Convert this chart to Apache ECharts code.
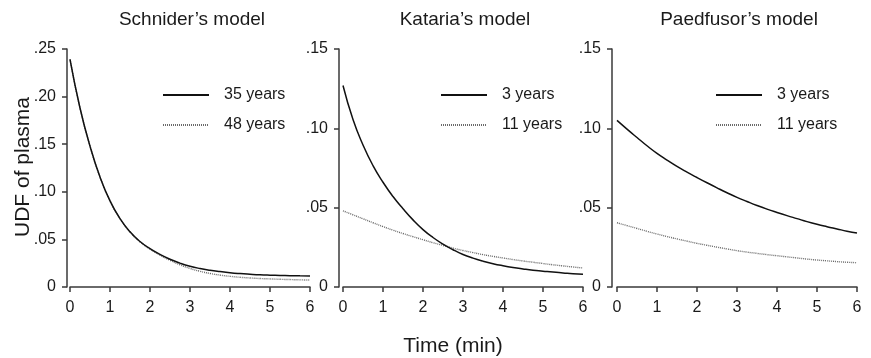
<!DOCTYPE html>
<html>
<head>
<meta charset="utf-8">
<script src="https://cdn.jsdelivr.net/npm/echarts@6/dist/echarts.min.js"></script>
<style>html,body{margin:0;padding:0;background:#fff}#c{width:871px;height:358px}</style>
</head>
<body>
<div id="c"></div>
<script>
// ---- data ----
var times = [0,0.25,0.5,0.75,1,1.25,1.5,1.75,2,2.25,2.5,2.75,3,3.25,3.5,3.75,4,4.25,4.5,4.75,5,5.25,5.5,5.75,6];
var panelTitles = ['Schnider\u2019s model','Kataria\u2019s model','Paedfusor\u2019s model'];
var seriesNames = [['35 years','48 years'],['3 years','11 years'],['3 years','11 years']];
var schnider35 = [0.239,0.188,0.148,0.1155,0.0905,0.0718,0.0580,0.0478,0.0403,0.0343,0.0292,0.0251,0.0218,0.0194,0.0176,0.0162,0.0150,0.0141,0.0134,0.0128,0.0124,0.0121,0.0119,0.0117,0.0116];
var schnider48 = [0.239,0.188,0.148,0.1155,0.0905,0.0718,0.0578,0.0474,0.0398,0.0335,0.0280,0.0233,0.0195,0.0165,0.0142,0.0125,0.0112,0.0102,0.0095,0.0089,0.0085,0.0081,0.0078,0.0075,0.0073];
var kataria3  = [0.127,0.1055,0.0895,0.0765,0.0660,0.0570,0.0493,0.0423,0.0362,0.0312,0.0270,0.0235,0.0205,0.0182,0.0163,0.0147,0.0134,0.0123,0.0114,0.0106,0.0100,0.0094,0.0089,0.0084,0.0080];
var kataria11 = [0.048,0.0455,0.0430,0.0405,0.0381,0.0358,0.0337,0.0317,0.0298,0.0279,0.0262,0.0245,0.0230,0.0217,0.0204,0.0193,0.0183,0.0173,0.0164,0.0156,0.0148,0.0140,0.0133,0.0126,0.0120];
var paed3  = [0.105,0.0995,0.0942,0.0890,0.0842,0.0800,0.0760,0.0724,0.0690,0.0657,0.0625,0.0594,0.0565,0.0539,0.0514,0.0491,0.0470,0.0450,0.0431,0.0412,0.0395,0.0380,0.0366,0.0352,0.0340];
var paed11 = [0.0405,0.0387,0.0369,0.0351,0.0334,0.0318,0.0303,0.0289,0.0275,0.0263,0.0251,0.0240,0.0229,0.0220,0.0212,0.0204,0.0197,0.0190,0.0183,0.0176,0.0170,0.0165,0.0160,0.0156,0.0153];
var yMax = [0.25, 0.15, 0.15];
var xTicks = ['0','1','2','3','4','5','6'];
var yLabel = 'UDF of plasma';
var xLabel = 'Time (min)';

var panelData = [[schnider35, schnider48],[kataria3, kataria11],[paed3, paed11]];

// ---- layout ----
var FONT = '"Liberation Sans", Arial, sans-serif';
var gridLefts = [70, 343, 617];
var yOffsets = [3, 4, 5];
var legendLefts = [162, 440, 715];
var axisColor = '#3a3a3a';
var solidColor = '#111111';
var dotColor = '#6a6a6a';

function pairs(arr){ return arr.map(function(v,i){ return [times[i], v]; }); }
function yFmt(v){ if (Math.abs(v) < 1e-9) return '0'; return v.toFixed(2).replace(/^0/, ''); }

var grids = [], xAxes = [], yAxes = [], series = [], legends = [], graphics = [];
for (var p = 0; p < 3; p++) {
  grids.push({left: gridLefts[p], top: 49, width: 240, height: 238});
  xAxes.push({
    type: 'value', gridIndex: p, min: 0, max: 6, interval: 1,
    axisLine: {show: true, lineStyle: {color: axisColor, width: 1.5}},
    axisTick: {show: true, length: 5, lineStyle: {color: axisColor, width: 1.5}},
    axisLabel: {color: '#1a1a1a', fontSize: 16, fontFamily: FONT, margin: 13,
      formatter: function(v){ return xTicks[Math.round(v)]; }},
    splitLine: {show: false}
  });
  yAxes.push({
    type: 'value', gridIndex: p, min: 0, max: yMax[p], interval: 0.05, offset: yOffsets[p],
    axisLine: {show: true, onZero: false, lineStyle: {color: axisColor, width: 1.5}},
    axisTick: {show: true, length: 5, lineStyle: {color: axisColor, width: 1.5}},
    axisLabel: {color: '#1a1a1a', fontSize: 16, fontFamily: FONT, margin: 11, formatter: yFmt},
    splitLine: {show: false}
  });
  series.push({
    type: 'line', name: seriesNames[p][1], xAxisIndex: p, yAxisIndex: p,
    data: pairs(panelData[p][1]), smooth: true, symbol: 'none', z: 1,
    color: dotColor, itemStyle: {color: dotColor},
    lineStyle: {color: dotColor, width: 1.4, type: [1, 1]}
  });
  series.push({
    type: 'line', name: seriesNames[p][0], xAxisIndex: p, yAxisIndex: p,
    data: pairs(panelData[p][0]), smooth: true, symbol: 'none', z: 2,
    color: solidColor, itemStyle: {color: solidColor},
    lineStyle: {color: solidColor, width: 1.5, type: 'solid'}
  });
  legends.push({
    orient: 'vertical', left: legendLefts[p], top: 87, padding: 0,
    itemWidth: 46, itemHeight: 16, itemGap: 14,
    data: [seriesNames[p][0], seriesNames[p][1]],
    itemStyle: {opacity: 0, borderWidth: 0},
    textStyle: {fontSize: 16, fontFamily: FONT, color: '#1a1a1a', lineHeight: 16, padding: [0,0,0,10]},
    selectedMode: false
  });
  graphics.push({
    type: 'text', x: gridLefts[p] + 122, y: 20,
    style: {text: panelTitles[p], font: '19px ' + FONT, fill: '#1a1a1a', textAlign: 'center', textVerticalAlign: 'middle'}
  });
}
graphics.push({
  type: 'text', x: 23, y: 167, rotation: Math.PI / 2,
  style: {text: yLabel, font: '21px ' + FONT, fill: '#1a1a1a', textAlign: 'center', textVerticalAlign: 'middle'}
});
graphics.push({
  type: 'text', x: 453, y: 346,
  style: {text: xLabel, font: '21px ' + FONT, fill: '#1a1a1a', textAlign: 'center', textVerticalAlign: 'middle'}
});

var chart = echarts.init(document.getElementById('c'), null, {renderer: 'canvas'});
chart.setOption({
  animation: false,
  backgroundColor: '#fff',
  grid: grids, xAxis: xAxes, yAxis: yAxes, series: series, legend: legends,
  graphic: graphics
});
</script>
</body>
</html>
